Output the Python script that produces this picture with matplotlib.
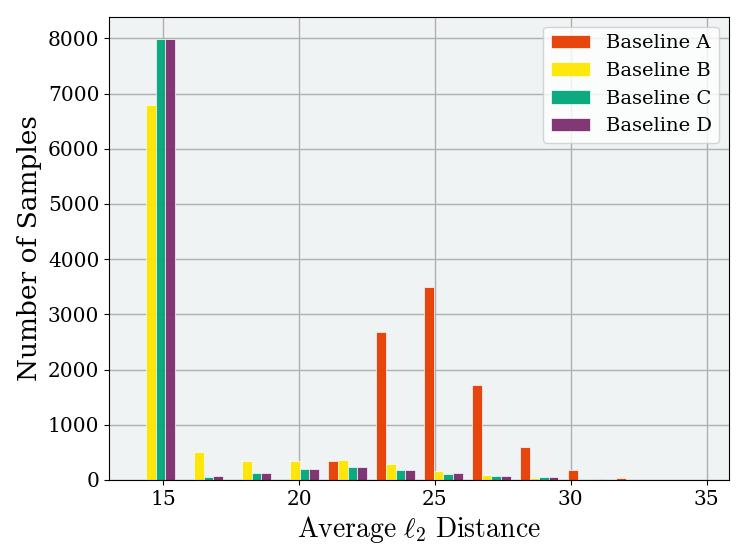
import numpy as np
import matplotlib
matplotlib.use('Agg')
import matplotlib.pyplot as plt

plt.rcParams['font.family'] = 'DejaVu Serif'
plt.rcParams['mathtext.fontset'] = 'cm'

# histogram bin edges and counts per bin
bin_edges = [13.84, 15.605, 17.37, 19.135, 20.9, 22.665, 24.43, 26.195, 27.96,
             29.725, 31.49, 33.255, 35.02]
labels = ['Baseline A', 'Baseline B', 'Baseline C', 'Baseline D']
colors = ['#e63c00', '#ffe600', '#00a67a', '#7b2d6e']
counts_a = [0, 0, 0, 0, 350, 2675, 3493, 1711, 589, 184, 43, 0]
counts_b = [6794, 509, 337, 350, 368, 288, 166, 92, 31, 0, 0, 0]
counts_c = [7990, 61, 117, 190, 239, 178, 110, 67, 61, 25, 0, 0]
counts_d = [7990, 74, 117, 190, 233, 178, 129, 67, 55, 12, 0, 0]

edges = np.array(bin_edges)
centers = (edges[:-1] + edges[1:]) / 2
all_counts = [counts_a, counts_b, counts_c, counts_d]

fig, ax = plt.subplots(figsize=(7.47, 5.6), dpi=100)
fig.subplots_adjust(left=0.146, right=0.976, top=0.970, bottom=0.143)
ax.set_facecolor('#eff3f4')
ax.set_axisbelow(True)
ax.grid(True, color='#b0b0b0', linewidth=1)

ax.hist([centers] * 4, bins=edges, weights=all_counts, color=colors, label=labels,
        alpha=0.95, edgecolor=(1, 1, 1, 0.5), linewidth=0.5)

ax.set_xlim(13.0, 35.83)
ax.set_xticks([15, 20, 25, 30, 35])
ax.set_xlabel(r'$\mathrm{Average}\ \ell_2\ \mathrm{Distance}$', fontsize=20)
ax.set_ylabel('Number of Samples', fontsize=19)
ax.tick_params(labelsize=14.5)
ax.legend(loc='upper right', fontsize=14)

plt.savefig('out.png')
